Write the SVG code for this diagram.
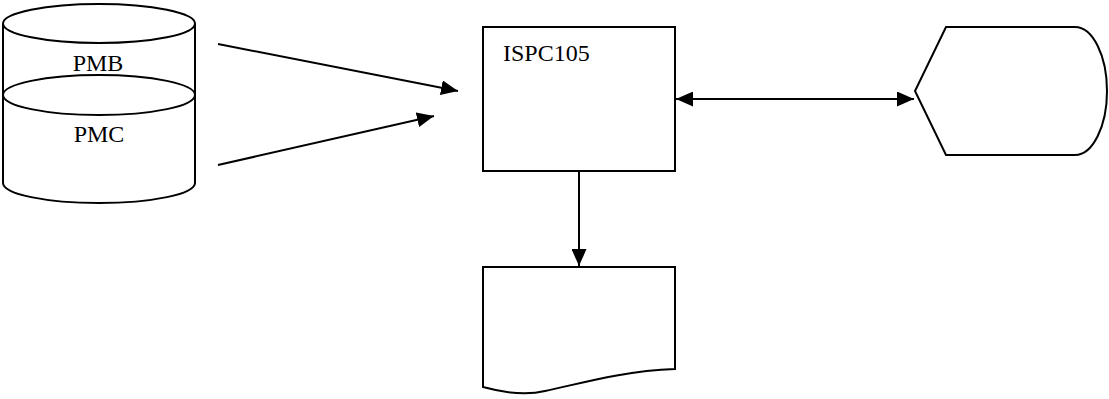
<svg xmlns="http://www.w3.org/2000/svg" width="1109" height="399" viewBox="0 0 1109 399">
<style>
.s{fill:#fff;stroke:#000;stroke-width:2}
.c{stroke:#000;stroke-width:2;fill:none}
.t{font-family:"Liberation Serif","Times New Roman",serif;font-size:24px;fill:#000}
</style>
<defs>
<marker id="ah" markerUnits="userSpaceOnUse" markerWidth="17" markerHeight="15" refX="17" refY="7.5" orient="auto-start-reverse" viewBox="0 0 17 15">
<path d="M0,0 L17,7.5 L0,15 Z" fill="#000"/>
</marker>
</defs>
<rect width="1109" height="399" fill="#fff"/>
<g id="cylinder">
<path class="s" d="M3,23.5 L3,183 A96,20 0 0 0 195,183 L195,23.5"/>
<ellipse class="s" cx="99" cy="23.5" rx="96" ry="19.5"/>
<ellipse class="s" cx="99" cy="95" rx="96" ry="20"/>
<text class="t" x="98" y="71" text-anchor="middle">PMB</text>
<text class="t" x="99" y="142" text-anchor="middle">PMC</text>
</g>
<g id="ispc105">
<rect class="s" x="483" y="27" width="192" height="144"/>
<text class="t" x="503" y="61">ISPC105</text>
</g>
<g id="display">
<path class="s" d="M946,27 L1075,27 A32,64 0 0 1 1075,155 L946,155 L915,91 Z"/>
</g>
<g id="document">
<path class="s" d="M483,267 L675,267 L675,369 C620,371 575,385 545,391 C525,396 505,393 483,387 Z"/>
</g>
<g id="connectors">
<line class="c" x1="218" y1="44" x2="458" y2="91" marker-end="url(#ah)"/>
<line class="c" x1="218" y1="165" x2="434" y2="116" marker-end="url(#ah)"/>
<line class="c" x1="579" y1="171" x2="579" y2="266" marker-end="url(#ah)"/>
<line class="c" x1="676" y1="99" x2="914" y2="99" marker-start="url(#ah)" marker-end="url(#ah)"/>
</g>
</svg>
